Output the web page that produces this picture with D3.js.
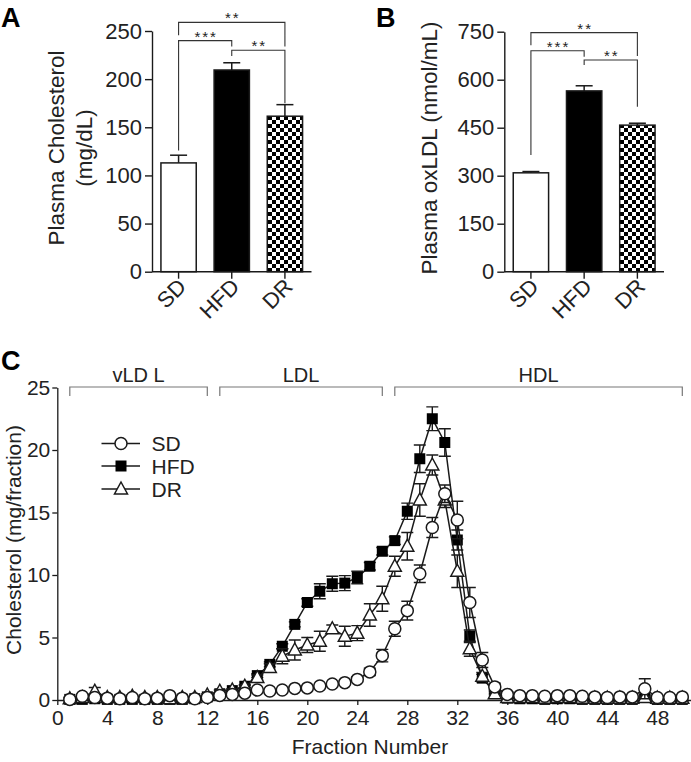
<!DOCTYPE html>
<html><head><meta charset="utf-8">
<script src="https://cdn.jsdelivr.net/npm/d3@7"></script>
<style>
body{margin:0;background:#fff}
text{font-family:"Liberation Sans",Arial,Helvetica,sans-serif;fill:#222}
</style>
</head><body>
<svg id="chart" width="691" height="762"></svg>
<script>
// ---------- Data ----------
const groups = ["SD", "HFD", "DR"];
const cholMean = [113, 209.5, 161.5];
const cholErr = [8, 7.5, 12];
const cholTicks = [0, 50, 100, 150, 200, 250];
const oxMean = [309, 565, 458];
const oxErr = [4, 16, 6];
const oxTicks = [0, 150, 300, 450, 600, 750];
// [from, to, level, leftLegEnd, rightLegEnd, label] (data units)
const cholBrackets = [["SD","DR",259,245.5,233.8,"**"],["SD","HFD",240,126,233.8,"***"],["HFD","DR",230,224,175,"**"]];
const oxBrackets = [["SD","DR",747,708,674,"**"],["SD","HFD",690.6,364.7,672,"***"],["HFD","DR",661.6,646,515.6,"**"]];

const fractions = [1,2,3,4,5,6,7,8,9,10,11,12,13,14,15,16,17,18,19,20,21,22,23,24,25,26,27,28,29,30,31,32,33,34,35,36,37,38,39,40,41,42,43,44,45,46,47,48,49,50];
const sdVal = [0.05,0.3,0.2,0.15,0.1,0.2,0.1,0.15,0.35,0.15,0.1,0.2,0.37,0.45,0.55,0.8,0.72,0.8,0.93,0.97,1.12,1.28,1.39,1.65,2.25,3.55,5.7,7.15,10.1,13.8,16.5,14.4,7.8,3.2,1.05,0.45,0.35,0.35,0.3,0.35,0.35,0.3,0.25,0.2,0.25,0.25,0.9,0.2,0.2,0.25];
const sdErr = [0.1,0.1,0.1,0.1,0.1,0.1,0.1,0.1,0.1,0.1,0.1,0.1,0.1,0.1,0.1,0.1,0.1,0.1,0.1,0.1,0.1,0.1,0.15,0.2,0.3,0.5,0.6,0.75,0.7,0.8,0.7,1.5,1.2,0.6,0.3,0.2,0.1,0.1,0.1,0.15,0.15,0.1,0.1,0.1,0.1,0.1,0.8,0.1,0.1,0.1];
const hfdVal = [0.05,0.05,0.1,0.05,0.05,0.05,0.05,0.05,0.05,0.05,0.1,0.25,0.5,0.75,1.1,1.95,2.85,4.3,6.05,7.8,8.7,9.3,9.35,9.8,10.7,11.9,12.75,15.1,19.3,22.5,20.6,12.8,5.1,1.75,0.6,0.15,0.1,0.1,0.05,0.1,0.1,0.05,0.05,0.05,0.05,0.05,0.2,0.05,0.05,0.05];
const hfdErr = [0.1,0.1,0.1,0.1,0.1,0.1,0.1,0.1,0.1,0.1,0.1,0.1,0.1,0.1,0.1,0.15,0.2,0.2,0.2,0.3,0.6,0.6,0.6,0.5,0.3,0.3,0.3,0.65,1.1,0.95,1.1,0.8,0.5,0.3,0.1,0.1,0.1,0.1,0.1,0.1,0.1,0.1,0.1,0.1,0.1,0.1,0.2,0.1,0.1,0.1];
const drVal = [0.1,0.2,0.7,0.2,0.2,0.3,0.2,0.2,0.1,0.2,0.2,0.4,0.7,0.8,1.1,1.8,2.6,3.5,4.0,4.4,4.7,5.7,5.1,5.35,6.8,8.1,10.7,12.3,16.0,18.8,16.0,10.3,4.1,1.9,0.5,0.2,0.2,0.2,0.15,0.2,0.2,0.15,0.15,0.15,0.15,0.15,0.2,0.15,0.15,0.15];
const drErr = [0.1,0.1,0.3,0.1,0.1,0.1,0.1,0.1,0.1,0.1,0.1,0.1,0.1,0.1,0.1,0.2,0.3,0.6,0.8,0.6,0.8,0.3,0.8,0.6,0.9,1.0,0.8,1.1,1.3,0.8,0.6,1.3,0.6,0.3,0.1,0.1,0.1,0.1,0.1,0.1,0.1,0.1,0.1,0.1,0.1,0.1,0.1,0.1,0.1,0.1];
const xTicksC = [0,4,8,12,16,20,24,28,32,36,40,44,48];
const yTicksC = [0,5,10,15,20,25];
const regions = [["vLD L",1,12],["LDL",13,26],["HDL",27,50]];
const seriesNames = ["SD","HFD","DR"];

// ---------- Drawing ----------
const svg = d3.select("#chart");
const INK = "#1a1a1a";

const defs = svg.append("defs");
const pat = defs.append("pattern").attr("id","checker").attr("patternUnits","userSpaceOnUse")
  .attr("width",8).attr("height",8);
pat.append("rect").attr("width",8).attr("height",8).attr("fill","#fff");
pat.append("rect").attr("width",4).attr("height",4).attr("fill","#000");
pat.append("rect").attr("x",4).attr("y",4).attr("width",4).attr("height",4).attr("fill","#000");

const fills = {SD:"#fff", HFD:"#000", DR:"url(#checker)"};

function panelLetter(t, x, y){
  svg.append("text").attr("x",x).attr("y",y).text(t)
    .style("font-size","27px").style("font-weight","bold").style("fill","#000");
}

function barPanel(opt){
  const g = svg.append("g");
  const x = d3.scaleBand().domain(groups).range([opt.x0, opt.x1]).paddingInner(0.336).paddingOuter(0.168);
  const y = d3.scaleLinear().domain([0, opt.max]).range([271.7, opt.top]);
  // y axis
  const ya = g.append("g").attr("transform",`translate(${opt.x0},0)`)
    .call(d3.axisLeft(y).tickValues(opt.ticks).tickSize(7).tickPadding(3).tickSizeOuter(0));
  ya.selectAll("path,line").attr("stroke",INK).attr("stroke-width",1.4);
  ya.selectAll("text").style("font-size","22px").style("fill","#222").attr("font-family",null);
  // x axis
  const xa = g.append("g").attr("transform",`translate(0,271.7)`)
    .call(d3.axisBottom(x).tickSize(7).tickSizeOuter(0).tickFormat(""));
  xa.select(".domain").attr("d",`M${opt.x0},0H${opt.x1}`);
  xa.selectAll("path,line").attr("stroke",INK).attr("stroke-width",1.4);
  groups.forEach(k=>{
    g.append("text").attr("text-anchor","end")
      .attr("transform",`translate(${x(k)+x.bandwidth()/2+9},288) rotate(-45)`)
      .style("font-size","22px").text(k);
  });
  // bars
  groups.forEach((k,i)=>{
    const cx = x(k)+x.bandwidth()/2;
    g.append("line").attr("x1",cx).attr("x2",cx).attr("y1",y(opt.mean[i])).attr("y2",y(opt.mean[i]+opt.err[i]))
      .attr("stroke",INK).attr("stroke-width",1.5);
    g.append("line").attr("x1",cx-8.5).attr("x2",cx+8.5).attr("y1",y(opt.mean[i]+opt.err[i])).attr("y2",y(opt.mean[i]+opt.err[i]))
      .attr("stroke",INK).attr("stroke-width",1.5);
    g.append("rect").attr("x",x(k)).attr("y",y(opt.mean[i])).attr("width",x.bandwidth())
      .attr("height",y(0)-y(opt.mean[i])).attr("fill",fills[k]).attr("stroke",INK).attr("stroke-width",1.5);
  });
  // brackets
  opt.brackets.forEach(b=>{
    const xa1 = x(b[0])+x.bandwidth()/2, xa2 = x(b[1])+x.bandwidth()/2;
    const ly = y(b[2]);
    g.append("path").attr("d",`M${xa1},${y(b[3])}V${ly}H${xa2}V${y(b[4])}`)
      .attr("fill","none").attr("stroke","#333").attr("stroke-width",1.1);
    g.append("text").attr("x",(xa1+xa2)/2+1).attr("y",ly+1).attr("text-anchor","middle")
      .style("font-size","15px").style("letter-spacing","2px").text(b[5]);
  });
  // y label
  opt.ylabel.forEach((t,i)=>{
    g.append("text").attr("text-anchor","middle")
      .attr("transform",`translate(${opt.labelX[i]},${opt.labelY}) rotate(-90)`)
      .style("font-size","22.5px").text(t);
  });
}

panelLetter("A", 1, 27);
barPanel({x0:152, x1:311.5, top:31, max:250, ticks:cholTicks, mean:cholMean, err:cholErr,
  brackets:cholBrackets, ylabel:["Plasma Cholesterol","(mg/dL)"], labelX:[64,92], labelY:148});
panelLetter("B", 376, 27);
barPanel({x0:504.3, x1:664, top:31.7, max:750, ticks:oxTicks, mean:oxMean, err:oxErr,
  brackets:oxBrackets, ylabel:["Plasma oxLDL (nmol/mL)"], labelX:[436.5], labelY:148});

// ---------- Panel C ----------
panelLetter("C", 1, 370);
const gc = svg.append("g");
const xC = d3.scaleLinear().domain([0, 50.72]).range([57.3, 691.3]);
const yC = d3.scaleLinear().domain([0, 25]).range([700, 387.5]);

const xaC = gc.append("g").attr("transform","translate(0,700)")
  .call(d3.axisBottom(xC).tickValues(xTicksC).tickSize(5).tickPadding(5).tickSizeOuter(0));
xaC.selectAll("path,line").attr("stroke",INK).attr("stroke-width",1.3);
xaC.selectAll("text").style("font-size","21px").style("fill","#222").attr("font-family",null);
const yaC = gc.append("g").attr("transform","translate(57.3,0)")
  .call(d3.axisLeft(yC).tickValues(yTicksC).tickSize(5).tickPadding(2).tickSizeOuter(0));
yaC.selectAll("path,line").attr("stroke",INK).attr("stroke-width",1.3);
yaC.selectAll("text").style("font-size","21px").style("fill","#222").attr("font-family",null);

gc.append("text").attr("x",370).attr("y",754).attr("text-anchor","middle").style("font-size","21px").text("Fraction Number");
gc.append("text").attr("text-anchor","middle").attr("transform","translate(21,540) rotate(-90)")
  .style("font-size","21px").text("Cholesterol (mg/fraction)");

// region brackets
regions.forEach(r=>{
  const a = xC(r[1]), b = xC(r[2]);
  gc.append("path").attr("d",`M${a},396V387H${b}V396`).attr("fill","none").attr("stroke","#777").attr("stroke-width",1.2);
  gc.append("text").attr("x",(a+b)/2).attr("y",382).attr("text-anchor","middle").style("font-size","20px").text(r[0]);
});

function marker(g, type, cx, cy){
  if(type==="SD") g.append("circle").attr("cx",cx).attr("cy",cy).attr("r",6).attr("fill","#fff").attr("stroke",INK).attr("stroke-width",1.5);
  else if(type==="HFD") g.append("rect").attr("x",cx-5.5).attr("y",cy-5.5).attr("width",11).attr("height",11).attr("fill","#000");
  else g.append("path").attr("d",`M${cx},${cy-7}L${cx+6.5},${cy+5}L${cx-6.5},${cy+5}Z`).attr("fill","#fff").attr("stroke",INK).attr("stroke-width",1.5);
}

const seriesData = {SD:[sdVal,sdErr], HFD:[hfdVal,hfdErr], DR:[drVal,drErr]};
const line = d3.line().x(d=>xC(d[0])).y(d=>yC(d[1]));
["HFD","DR","SD"].forEach(name=>{
  const [vals, errs] = seriesData[name];
  const pts = fractions.map((f,i)=>[f, vals[i], errs[i]]);
  const gs = gc.append("g");
  pts.forEach(p=>{
    const cx = xC(p[0]);
    gs.append("path").attr("d",`M${cx},${yC(p[1]-p[2])}V${yC(p[1]+p[2])}M${cx-6},${yC(p[1]+p[2])}H${cx+6}M${cx-6},${yC(p[1]-p[2])}H${cx+6}`)
      .attr("stroke",INK).attr("stroke-width",1.4).attr("fill","none");
  });
  gs.append("path").datum(pts).attr("d",line).attr("fill","none").attr("stroke",INK).attr("stroke-width",1.5);
  pts.forEach(p=>marker(gs, name, xC(p[0]), yC(p[1])));
});

// legend
const legY = [443.5, 466, 489];
seriesNames.forEach((n,i)=>{
  gc.append("line").attr("x1",101.5).attr("x2",140).attr("y1",legY[i]).attr("y2",legY[i]).attr("stroke",INK).attr("stroke-width",1.5);
  marker(gc, n, 121, legY[i]);
  gc.append("text").attr("x",151.5).attr("y",legY[i]+7.5).style("font-size","21px").text(n);
});
</script>
</body></html>
